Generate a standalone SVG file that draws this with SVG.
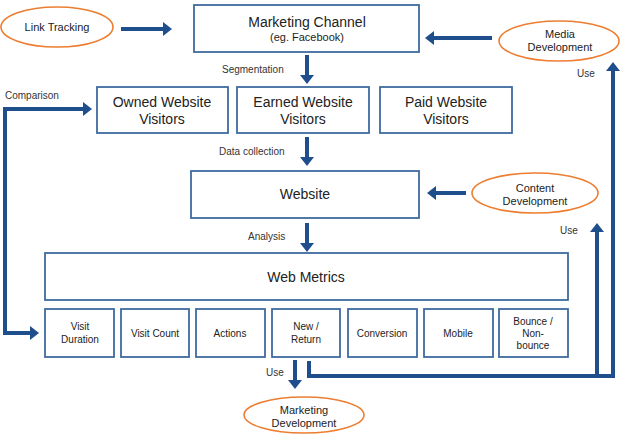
<svg xmlns="http://www.w3.org/2000/svg" width="620" height="434" viewBox="0 0 620 434">
<style>
.box{fill:#fff;stroke:#3e6b9f;stroke-width:1.8}
.oval{fill:#fff;stroke:#ed7d31;stroke-width:1.6}
.t{font-family:"Liberation Sans",Arial,sans-serif;fill:#222;text-anchor:middle}
.big{font-size:14px}
.mid{font-size:11px}
.sm{font-size:10px}
.lbl{font-family:"Liberation Sans",Arial,sans-serif;fill:#333;font-size:10px}
.arr{fill:none;stroke:#1f4e8c;stroke-width:4}
</style>
<defs>
<marker id="ah" markerUnits="userSpaceOnUse" markerWidth="9" markerHeight="14" refX="0" refY="7" orient="auto-start-reverse" viewBox="0 0 9 14">
<path d="M0,0 L9,7 L0,14 z" fill="#1f4e8c"/>
</marker>
</defs>
<rect width="620" height="434" fill="#fff"/>

<g id="connectors">
<path class="arr" d="M121,29 L163,29" marker-end="url(#ah)"/>
<path class="arr" d="M492,38 L434,38" marker-end="url(#ah)"/>
<path class="arr" d="M307,55 L307,75" marker-end="url(#ah)"/>
<path class="arr" d="M307,137 L307,157" marker-end="url(#ah)"/>
<path class="arr" d="M466,193 L436,193" marker-end="url(#ah)"/>
<path class="arr" d="M307,223 L307,243" marker-end="url(#ah)"/>
<path class="arr" d="M83,109 L5,109 L5,333 L30,333" marker-start="url(#ah)" marker-end="url(#ah)"/>
<path class="arr" d="M295,360 L295,380" marker-end="url(#ah)"/>
<path class="arr" d="M309,361 L309,376 L613,376 L613,71" marker-end="url(#ah)"/>
<path class="arr" d="M597,376 L597,232" marker-end="url(#ah)"/>
<text class="lbl" x="222" y="73">Segmentation</text>
<text class="lbl" x="219" y="155">Data collection</text>
<text class="lbl" x="248" y="240">Analysis</text>
<text class="lbl" x="5" y="99">Comparison</text>
<text class="lbl" x="577" y="77">Use</text>
<text class="lbl" x="560" y="234">Use</text>
<text class="lbl" x="266" y="376">Use</text>
</g>

<g id="link-tracking">
<ellipse class="oval" cx="57" cy="27" rx="56" ry="20"/>
<text class="t mid" x="57" y="31">Link Tracking</text>
</g>
<g id="marketing-channel">
<rect class="box" x="194" y="5" width="225" height="47"/>
<text class="t big" x="307" y="27">Marketing Channel</text>
<text class="t mid" x="307" y="41">(eg. Facebook)</text>
</g>
<g id="media-development">
<ellipse class="oval" cx="559" cy="41" rx="60" ry="20"/>
<text class="t mid" x="560" y="38">Media</text>
<text class="t mid" x="560" y="51">Development</text>
</g>
<g id="owned">
<rect class="box" x="97" y="87" width="131" height="46"/>
<text class="t big" x="162" y="107">Owned Website</text>
<text class="t big" x="162" y="124">Visitors</text>
</g>
<g id="earned">
<rect class="box" x="237" y="87" width="132" height="46"/>
<text class="t big" x="303" y="107">Earned Website</text>
<text class="t big" x="303" y="124">Visitors</text>
</g>
<g id="paid">
<rect class="box" x="380" y="87" width="132" height="46"/>
<text class="t big" x="446" y="107">Paid Website</text>
<text class="t big" x="446" y="124">Visitors</text>
</g>
<g id="website">
<rect class="box" x="191" y="171" width="228" height="47"/>
<text class="t big" x="305" y="199">Website</text>
</g>
<g id="content-development">
<ellipse class="oval" cx="535" cy="193" rx="63" ry="20"/>
<text class="t mid" x="535" y="192">Content</text>
<text class="t mid" x="535" y="205">Development</text>
</g>
<g id="web-metrics">
<rect class="box" x="45" y="253" width="523" height="47"/>
<text class="t big" x="306" y="282">Web Metrics</text>
</g>
<g id="visit-duration">
<rect class="box" x="45" y="309" width="69" height="48"/>
<text class="t sm" x="80" y="330">Visit</text>
<text class="t sm" x="80" y="343">Duration</text>
</g>
<g id="visit-count">
<rect class="box" x="121" y="309" width="68" height="48"/>
<text class="t sm" x="155" y="337">Visit Count</text>
</g>
<g id="actions">
<rect class="box" x="196" y="309" width="69" height="48"/>
<text class="t sm" x="230" y="337">Actions</text>
</g>
<g id="new-return">
<rect class="box" x="272" y="309" width="68" height="48"/>
<text class="t sm" x="306" y="330">New /</text>
<text class="t sm" x="306" y="343">Return</text>
</g>
<g id="conversion">
<rect class="box" x="348" y="309" width="69" height="48"/>
<text class="t sm" x="382" y="337">Conversion</text>
</g>
<g id="mobile">
<rect class="box" x="424" y="309" width="69" height="48"/>
<text class="t sm" x="458" y="337">Mobile</text>
</g>
<g id="bounce">
<rect class="box" x="499" y="309" width="69" height="48"/>
<text class="t sm" x="533" y="325">Bounce /</text>
<text class="t sm" x="533" y="337">Non-</text>
<text class="t sm" x="533" y="349">bounce</text>
</g>
<g id="marketing-development">
<ellipse class="oval" cx="304" cy="415" rx="60" ry="18"/>
<text class="t mid" x="304" y="414">Marketing</text>
<text class="t mid" x="304" y="427">Development</text>
</g>
</svg>
